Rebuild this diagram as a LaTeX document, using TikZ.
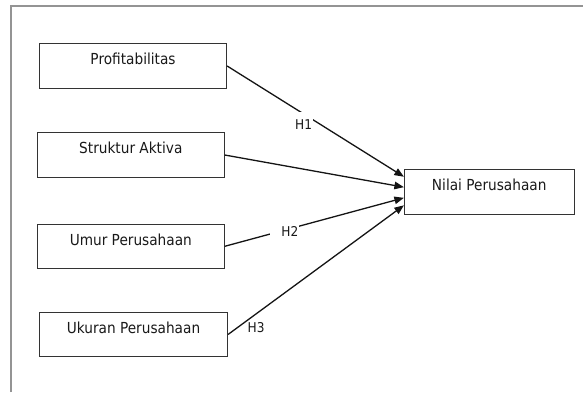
\documentclass[tikz,border=0pt]{standalone}
\usepackage{fontspec}
\setmainfont{DejaVu Sans}[FakeStretch=0.9]
\usetikzlibrary{arrows.meta,calc}
\begin{document}
\begin{tikzpicture}[x=1pt,y=-1pt,
  box/.style={draw=black!80,line width=0.9pt,inner sep=0pt,text height=21pt,text depth=23.5pt,
    font=\fontsize{15.2}{17}\selectfont,text=black!90},
  conn/.style={draw=black!92,line width=1.3pt,-{Triangle[length=9.5pt,width=7.5pt]}},
  hlabel/.style={fill=white,inner sep=1pt,text height=16pt,text depth=2pt,anchor=base west,
    font=\fontsize{13.5}{15}\selectfont,text=black!90},
  frame/.style={draw=black!42,line width=2pt}]
\useasboundingbox (0,0) rectangle (583,392);
\draw[frame] (11,392) -- (11,6) -- (583,6);
% boxes
\node[box,minimum width=187.4pt] (prof) at (133,66) {Profitabilitas};
\node[box,minimum width=187pt] (struk) at (130.8,155) {Struktur Aktiva};
\node[box,minimum width=187pt] (umur) at (130.8,246.3) {Umur Perusahaan};
\node[box,minimum width=188.4pt] (ukur) at (133.5,334.4) {Ukuran Perusahaan};
\node[box,minimum width=169.7pt] (nilai) at (489.2,191.7) {Nilai Perusahaan};
% target points
\coordinate (t1) at ($(nilai.north west)!0.17!(nilai.south west)$);
\coordinate (t2) at ($(nilai.north west)!0.40!(nilai.south west)$);
\coordinate (t3) at ($(nilai.north west)!0.635!(nilai.south west)$);
\coordinate (t4) at ($(nilai.north west)!0.80!(nilai.south west)$);
% connectors
\draw[conn] (prof.east) -- (t1);
\draw[conn] (struk.east) -- (t2);
\draw[conn] (umur.east) -- (t3);
\draw[conn] (ukur.east) -- (t4);
% labels
\node[hlabel] (h1) at (294,129) {H1};
\node[hlabel,anchor=base east,text width=27pt,align=right] (h2) at (299.5,236) {H2};
\node[hlabel,fill=none] (h3) at (246.5,332) {H3};
\end{tikzpicture}
\end{document}
